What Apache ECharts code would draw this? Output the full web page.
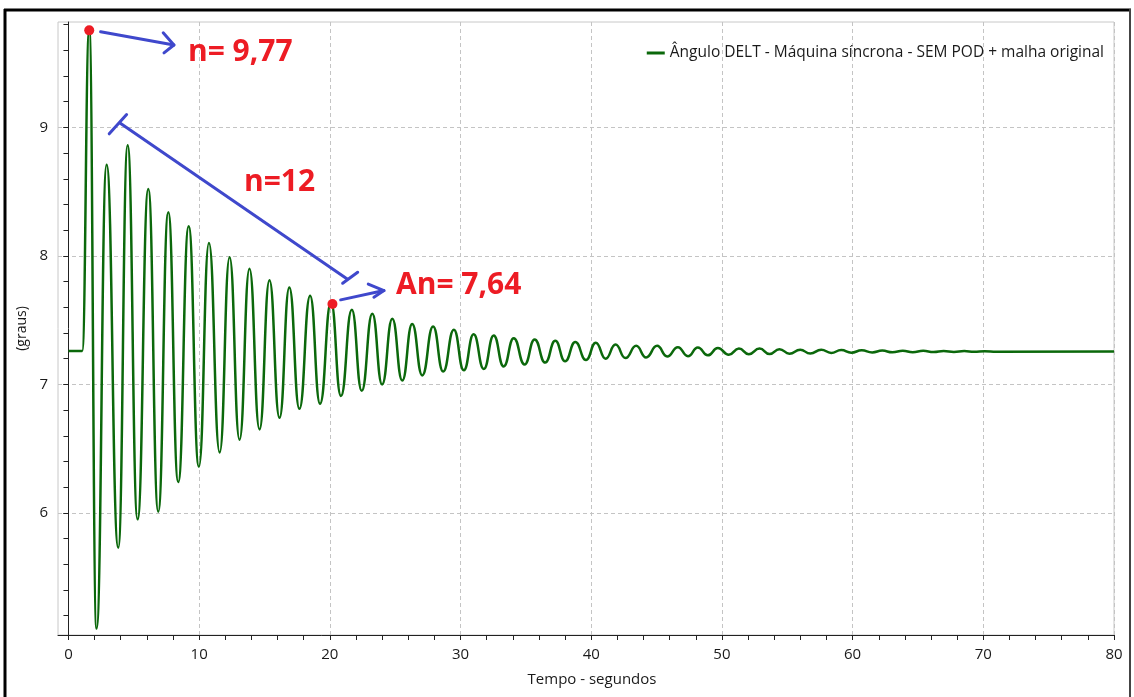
<!DOCTYPE html>
<html><head><meta charset="utf-8">
<script src="https://cdn.jsdelivr.net/npm/echarts/dist/echarts.min.js"></script>
<style>html,body{margin:0;padding:0;background:#fff;}#c{width:1134px;height:697px;}</style>
</head><body><div id="c"></div>
<script>
const seriesName = 'Ângulo DELT - Máquina síncrona - SEM POD + malha original';
const xAxisTitle = 'Tempo - segundos';
const yAxisTitle = '(graus)';
const xTickLabels = [0, 10, 20, 30, 40, 50, 60, 70, 80];
const xMinorTicks = [0, 2, 4, 6, 8, 10, 12, 14, 16, 18, 20, 22, 24, 26, 28, 30, 32, 34, 36, 38, 40,
  42, 44, 46, 48, 50, 52, 54, 56, 58, 60, 62, 64, 66, 68, 70, 72, 74, 76, 78, 80];
const yTickLabels = [6, 7, 8, 9];
const yMinorTicks = [5.2, 5.4, 5.6, 5.8, 6.0, 6.2, 6.4, 6.6, 6.8, 7.0, 7.2, 7.4, 7.6, 7.8, 8.0,
  8.2, 8.4, 8.6, 8.8, 9.0, 9.2, 9.4, 9.6, 9.8];

// simulated machine angle: peaks and troughs
const timeSec = [0, 1.05, 1.59, 2.15, 2.92, 3.81, 4.53, 5.29, 6.11, 6.87, 7.64, 8.40, 9.20, 9.98,
  10.75, 11.57, 12.33, 13.09, 13.85, 14.62, 15.38, 16.15, 16.9, 17.67, 18.49, 19.25, 20.09, 20.85,
  21.68, 22.44, 23.25, 24.0, 24.78, 25.54, 26.3, 27.07, 27.9, 28.67, 29.49, 30.25, 31.0, 31.78,
  32.54, 33.3, 34.07, 34.9, 35.67, 36.48, 37.25, 38.0, 38.78, 39.6, 40.35, 41.1, 41.86, 42.62,
  43.44, 44.2, 45.04, 45.81, 46.63, 47.4, 48.16, 48.92, 49.69, 50.53, 51.3, 52.06, 52.88, 53.65,
  54.4, 55.17, 55.99, 56.76, 57.6, 58.36, 59.13, 59.9, 60.7, 61.5, 62.27, 63.05, 63.84, 64.6,
  65.4, 66.2, 66.97, 67.75, 68.54, 69.3, 70.1, 71.0, 80];
const angleDeg = [7.26, 7.26, 9.76, 5.10, 8.71, 5.73, 8.86, 5.95, 8.52, 6.01, 8.34, 6.24, 8.23, 6.36,
  8.10, 6.47, 7.99, 6.57, 7.90, 6.65, 7.81, 6.74, 7.755, 6.81, 7.69, 6.85, 7.64, 6.91,
  7.58, 6.95, 7.55, 7.0, 7.51, 7.03, 7.47, 7.07, 7.45, 7.10, 7.425, 7.11, 7.39, 7.12,
  7.38, 7.14, 7.36, 7.155, 7.35, 7.17, 7.34, 7.18, 7.33, 7.19, 7.325, 7.20, 7.31, 7.205,
  7.30, 7.21, 7.30, 7.218, 7.29, 7.22, 7.288, 7.226, 7.283, 7.231, 7.279, 7.234, 7.279, 7.236,
  7.274, 7.239, 7.27, 7.24, 7.27, 7.245, 7.267, 7.247, 7.265, 7.249, 7.263, 7.25, 7.262, 7.251,
  7.261, 7.252, 7.26, 7.253, 7.259, 7.254, 7.258, 7.255, 7.256];

// hand-drawn annotations (data coordinates)
const markerTime = [1.59, 20.2];
const markerValue = [9.755, 7.625];
const noteTexts = ['n= 9,77', 'n=12', 'An= 7,64'];
const notePos = [[9.14, 9.585], [13.43, 8.57], [25.06, 7.77]];
const arrowLines = [
  [[2.46, 9.744], [8.07, 9.641]],
  [[7.25, 9.736], [8.07, 9.641], [7.31, 9.58]],
  [[3.94, 9.034], [21.33, 7.82]],
  [[3.12, 8.95], [4.45, 9.10]],
  [[20.98, 7.787], [22.13, 7.873]],
  [[20.83, 7.658], [24.14, 7.73]],
  [[22.94, 7.78], [24.14, 7.73], [23.37, 7.678]]
];

const FONT = '"Open Sans", "Noto Sans", sans-serif';
const TXT = '#1a1a1a';
const chart = echarts.init(document.getElementById('c'), null, {renderer: 'canvas'});
const lineData = timeSec.map((t, i) => [t, angleDeg[i]]);
const dotData = markerTime.map((t, i) => [t, markerValue[i]]);
const gridLine = {show: true, lineStyle: {color: '#c4c4c4', type: [4, 3], width: 1}};

chart.setOption({
  animation: false,
  backgroundColor: '#fff',
  grid: {left: 58, right: 20, top: 22, bottom: 62, containLabel: false,
    show: true, borderColor: '#c8c8c8', borderWidth: 1, backgroundColor: 'transparent'},
  legend: {
    data: [seriesName], right: 30, top: 45, padding: 0, icon: 'rect', itemWidth: 18, itemHeight: 3,
    textStyle: {fontFamily: FONT, fontSize: 15.5, color: TXT}
  },
  xAxis: [
    {
      type: 'value', min: -0.8, max: 80,
      name: xAxisTitle, nameLocation: 'middle', nameGap: 37,
      nameTextStyle: {fontFamily: FONT, fontSize: 15, color: TXT, padding: [0, 0, 0, 12]},
      axisLine: {show: true, lineStyle: {color: '#222', width: 1}},
      axisTick: {show: true, length: 5, lineStyle: {color: '#222'}, customValues: xTickLabels},
      axisLabel: {margin: 12, fontFamily: FONT, fontSize: 15, color: TXT, customValues: xTickLabels},
      splitLine: gridLine
    },
    {
      type: 'value', min: -0.8, max: 80, position: 'bottom',
      axisLine: {show: false},
      axisTick: {show: true, length: 5, lineStyle: {color: '#222'}, customValues: xMinorTicks},
      axisLabel: {show: false}, splitLine: {show: false}
    }
  ],
  yAxis: [
    {
      type: 'value', min: 5.05, max: 9.82,
      name: yAxisTitle, nameLocation: 'middle', nameGap: 19, nameRotate: 90,
      nameTextStyle: {fontFamily: FONT, fontSize: 14, color: TXT},
      axisLine: {show: true, lineStyle: {color: '#222', width: 1}},
      axisTick: {show: true, length: 5, lineStyle: {color: '#222'}, customValues: yTickLabels},
      axisLabel: {margin: 10, fontFamily: FONT, fontSize: 15, color: TXT, customValues: yTickLabels},
      splitLine: gridLine
    },
    {
      type: 'value', min: 5.05, max: 9.82, position: 'left',
      axisLine: {show: false},
      axisTick: {show: true, length: 5, lineStyle: {color: '#222'}, customValues: yMinorTicks},
      axisLabel: {show: false}, splitLine: {show: false}
    }
  ],
  series: [
    {
      name: seriesName, type: 'line', data: lineData, xAxisIndex: 0, yAxisIndex: 0,
      showSymbol: false, smooth: 0.5, smoothMonotone: 'x',
      lineStyle: {color: '#0b680b', width: 2.5}, itemStyle: {color: '#0b680b'}, z: 3
    },
    {
      name: 'marcadores', type: 'scatter', data: dotData, xAxisIndex: 0, yAxisIndex: 0,
      symbolSize: 10, itemStyle: {color: '#ed1c24', opacity: 1}, z: 6, silent: true
    }
  ]
});

const toPx = p => chart.convertToPixel({xAxisIndex: 0, yAxisIndex: 0}, p);
const graphics = [];
arrowLines.forEach(pts => {
  graphics.push({
    type: 'polyline', z: 10,
    shape: {points: pts.map(toPx)},
    style: {stroke: '#3f48cc', lineWidth: 3, fill: null, lineCap: 'round', lineJoin: 'round'}
  });
});
noteTexts.forEach((txt, i) => {
  const p = toPx(notePos[i]);
  graphics.push({
    type: 'text', z: 10, x: p[0], y: p[1],
    style: {text: txt, fill: '#ed1c24', font: 'bold 30px ' + FONT,
      textAlign: 'left', textVerticalAlign: 'middle', align: 'left', verticalAlign: 'middle'}
  });
});
// screenshot frame
graphics.push({type: 'line', shape: {x1: 4, y1: 10, x2: 1131, y2: 10}, style: {stroke: '#000', lineWidth: 3}, z: 20});
graphics.push({type: 'line', shape: {x1: 5, y1: 9, x2: 5, y2: 697}, style: {stroke: '#000', lineWidth: 3}, z: 20});
graphics.push({type: 'line', shape: {x1: 1130, y1: 9, x2: 1130, y2: 697}, style: {stroke: '#444', lineWidth: 2}, z: 20});
chart.setOption({graphic: graphics});
</script>
</body></html>
